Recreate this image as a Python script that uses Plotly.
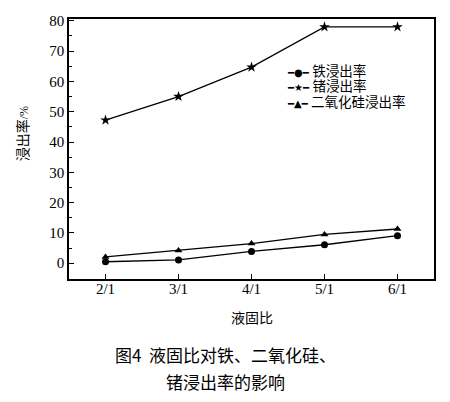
import plotly.graph_objects as go

ratios = ["2/1", "3/1", "4/1", "5/1", "6/1"]
fe_rate = [0.5, 1.1, 3.9, 6.1, 9.1]
ge_rate = [47.2, 55.0, 64.7, 78.0, 78.0]
sio2_rate = [2.1, 4.2, 6.5, 9.5, 11.3]

series_names = ["铁浸出率", "锗浸出率", "二氧化硅浸出率"]
series_values = [fe_rate, ge_rate, sio2_rate]
symbols = ["circle", "star", "triangle-up"]
sizes = [7, 8, 7]
legend_glyphs = ["●", "★", "▲"]

serif = "Liberation Serif, DejaVu Serif, serif"
cjk = "Noto Sans CJK SC"
# latin primary font keeps the line boxes short, CJK glyphs fall back to Noto
legend_font = "Liberation Serif, Noto Sans CJK SC"

fig = go.Figure()
for name, vals, sym, size in zip(series_names, series_values, symbols, sizes):
    fig.add_trace(go.Scatter(
        x=ratios, y=vals, mode="lines+markers", name=name,
        line=dict(color="black", width=1.3),
        marker=dict(symbol=sym, size=size, color="black"),
    ))

# hand-made legend as one text block: plotly's own legend rows are too far apart
legend_rows = [
    f"<span style='font-family:DejaVu Sans;font-size:10px'>━{g}━</span>"
    f"<span style='font-size:13.5px'> {n}</span>"
    for n, g in zip(series_names, legend_glyphs)
]

annotations = [
    dict(text="<br>".join(legend_rows), align="left",
         x=0.592, y=0.741, xref="paper", yref="paper",
         xanchor="left", yanchor="middle", showarrow=False,
         font=dict(family=legend_font, size=11.9, color="black")),
    dict(text="浸出率<span style='font-family:Liberation Serif;font-size:12px'>/%</span>",
         textangle=-90, x=-0.129, y=0.56, xref="paper", yref="paper",
         xanchor="center", yanchor="middle",
         showarrow=False, font=dict(family=cjk, size=14, color="black")),
    dict(text="液固比", x=0.5, y=-0.147, xref="paper", yref="paper",
         xanchor="center", yanchor="middle",
         showarrow=False, font=dict(family=cjk, size=14, color="black")),
    dict(text="图4  液固比对铁、二氧化硅、", x=0.43, y=-0.29, xref="paper", yref="paper",
         xanchor="center", yanchor="middle",
         showarrow=False, font=dict(family=cjk, size=17, color="black")),
    dict(text="锗浸出率的影响", x=0.43, y=-0.395, xref="paper", yref="paper",
         xanchor="center", yanchor="middle",
         showarrow=False, font=dict(family=cjk, size=17, color="black")),
]

# the page body adds an 8px margin, so the figure is drawn 8px smaller
fig.update_layout(
    width=442, height=394,
    paper_bgcolor="white", plot_bgcolor="white",
    margin=dict(l=61, r=16, t=5, b=123),
    showlegend=False,
    annotations=annotations,
)
fig.update_xaxes(
    type="category", range=[-0.5, 4.5],
    showline=True, linecolor="black", linewidth=1.5, mirror=True,
    ticks="inside", ticklen=5, tickcolor="black", showgrid=False,
    tickfont=dict(family=serif, size=15, color="black"),
    ticklabelstandoff=-5,
)
fig.update_yaxes(
    range=[-5.2, 80.6], tickvals=[0, 10, 20, 30, 40, 50, 60, 70, 80],
    showline=True, linecolor="black", linewidth=1.5, mirror=True,
    ticks="inside", ticklen=5, tickcolor="black", showgrid=False, zeroline=False,
    minor=dict(ticks="inside", ticklen=3, dtick=5, tickcolor="black"),
    tickfont=dict(family=serif, size=15, color="black"),
)

fig.write_html("out.html")
